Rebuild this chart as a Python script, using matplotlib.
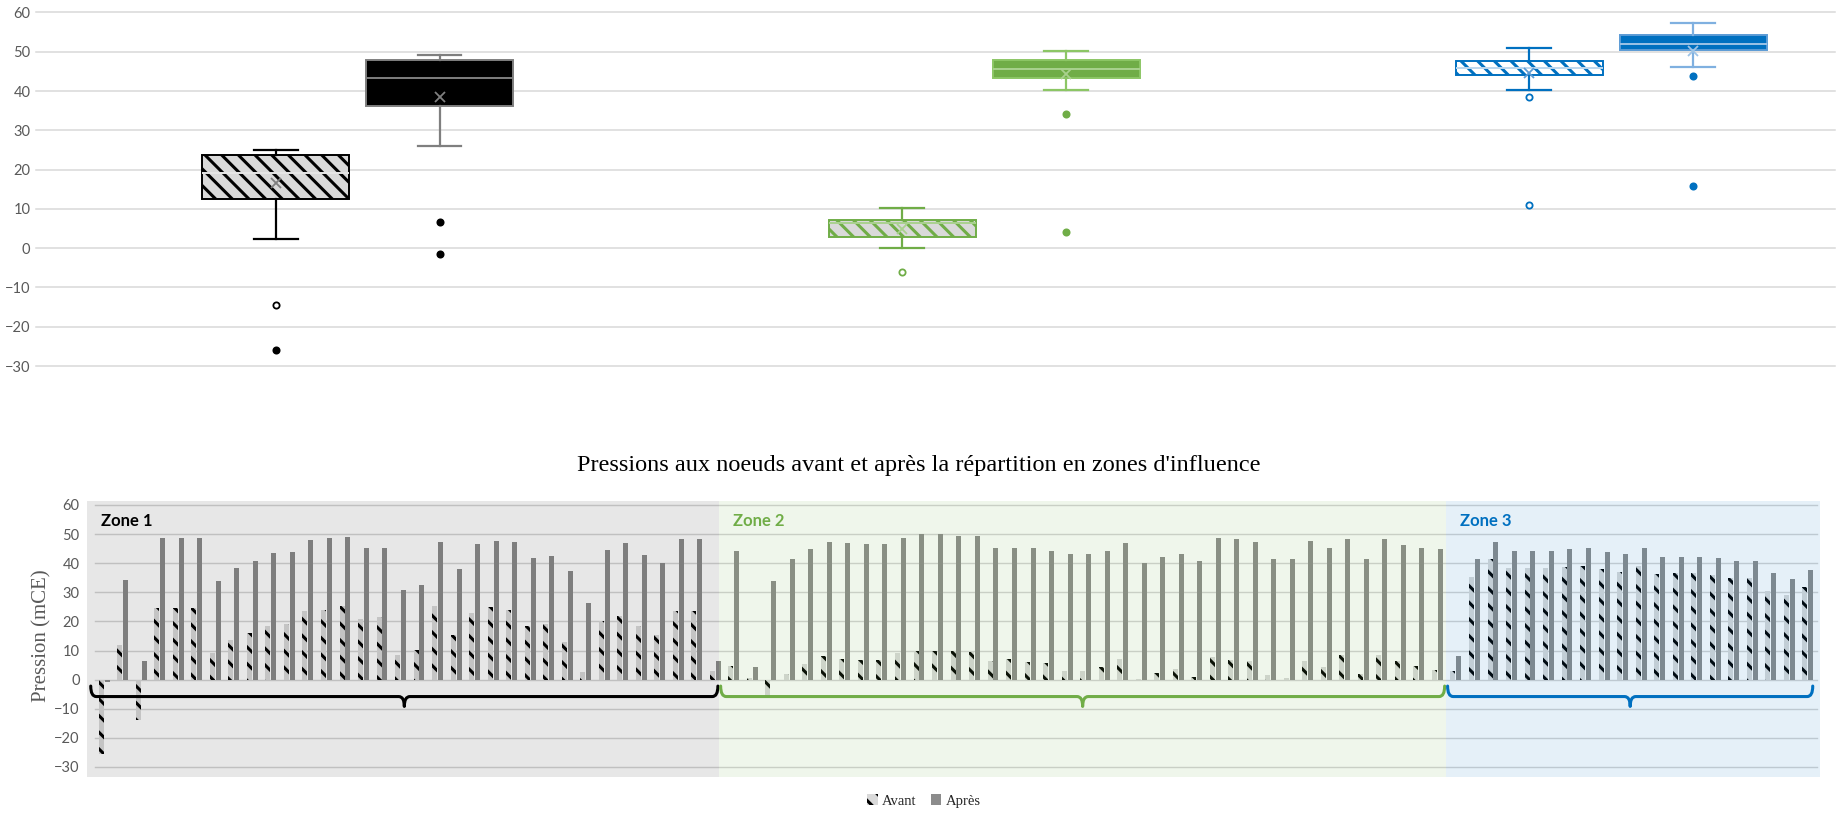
import numpy as np
import matplotlib
matplotlib.use("Agg")
import matplotlib.pyplot as plt
from matplotlib.patches import Rectangle, Patch, PathPatch
from matplotlib.path import Path

# ------------------------------------------------------------------ data
# Bottom chart: pressure (mCE) at each node, before / after zoning
zone_names = ["Zone 1", "Zone 2", "Zone 3"]
avant_z1 = [-25.7, 12.0, -14.0, 24.6, 24.6, 24.6, 9.1, 13.7, 16.0, 18.5, 19.1, 23.7,
            24.0, 25.4, 20.9, 21.6, 8.6, 10.3, 25.4, 15.4, 22.9, 25.1, 24.0, 18.3,
            19.2, 13.1, 2.6, 20.0, 21.7, 18.3, 15.4, 23.7, 23.7, 2.9]
apres_z1 = [-0.8, 34.3, 6.5, 48.6, 48.6, 48.6, 33.9, 38.3, 40.8, 43.4, 43.8, 48.0,
            48.6, 49.1, 45.1, 45.1, 30.9, 32.6, 47.4, 37.9, 46.5, 47.8, 47.4, 41.7,
            42.5, 37.4, 26.3, 44.6, 46.9, 42.9, 40.2, 48.2, 48.2, 6.5]
avant_z2 = [4.6, 0.5, -5.7, 1.9, 5.4, 8.0, 7.2, 6.9, 6.9, 9.1, 10.0, 9.7, 9.9, 9.5,
            6.5, 7.1, 6.1, 5.7, 2.9, 2.9, 4.3, 7.2, 0.3, 2.3, 3.7, 0.8, 7.7, 6.6,
            6.3, 1.7, 0.6, 6.5, 4.3, 8.6, 1.9, 8.6, 6.5, 4.6, 3.4]
apres_z2 = [44.2, 4.2, 33.9, 41.5, 44.8, 47.4, 46.9, 46.5, 46.5, 48.8, 49.9, 49.9,
            49.5, 49.5, 45.4, 45.4, 45.4, 44.3, 43.1, 43.1, 44.2, 46.9, 40.0, 42.3,
            43.1, 40.8, 48.8, 48.2, 47.4, 41.4, 41.4, 47.8, 45.1, 48.2, 41.4, 48.2,
            46.1, 45.4, 44.8]
avant_z3 = [3.1, 35.2, 41.4, 38.3, 38.3, 38.3, 38.6, 39.1, 37.9, 37.1, 39.1, 36.2,
            36.6, 36.6, 36.0, 34.9, 34.9, 30.6, 29.1, 32.0]
apres_z3 = [8.0, 41.4, 47.4, 44.3, 44.3, 44.3, 44.8, 45.4, 44.0, 43.1, 45.1, 42.1,
            42.3, 42.3, 41.9, 40.8, 40.8, 36.6, 34.5, 37.7]

# Top chart: box-and-whisker statistics (zone x avant/après)
box_labels = ["Zone 1 avant", "Zone 1 après", "Zone 2 avant", "Zone 2 après",
              "Zone 3 avant", "Zone 3 après"]
box_whislo = [2.3, 26.0, 0.0, 40.3, 40.3, 46.2]
box_q1 = [12.6, 36.2, 2.9, 43.2, 44.2, 50.5]
box_med = [19.1, 43.4, 6.4, 45.7, 45.8, 52.0]
box_q3 = [23.8, 47.9, 7.2, 48.0, 47.6, 54.2]
box_whishi = [25.0, 49.2, 10.1, 50.2, 50.9, 57.2]
box_mean = [16.6, 38.5, 5.0, 44.3, 44.6, 50.1]
box_fliers = [[-14.4, -26.0], [6.7, -1.4], [-6.0], [34.2, 4.2], [38.4, 11.0], [43.9, 15.9]]

legend_labels = ["Avant", "Après"]
title = "Pressions aux noeuds avant et après la répartition en zones d'influence"
ylabel = "Pression (mCE)"
yticks = [-30, -20, -10, 0, 10, 20, 30, 40, 50, 60]

# ------------------------------------------------------------------ style
SERIF = ["Liberation Serif", "DejaVu Serif"]
SANS = ["Lato", "DejaVu Sans"]
GREEN = "#70AD47"
BLUE = "#0070C0"
zone_colors = ["black", GREEN, BLUE]
zone_overlay = [("black", 0.095), (GREEN, 0.105), (BLUE, 0.10)]
plt.rcParams["hatch.linewidth"] = 2.2

W, H = 1837, 814
fig = plt.figure(figsize=(W / 100, H / 100), dpi=100)


def fx(px):
    return px / W


def fy(py):
    return 1 - py / H


# ================================================================= top chart
ax1 = fig.add_axes([fx(36), fy(366), fx(1835 - 36), (366 - 12.5) / H])

offs = 0.1308
positions = []
for z in range(3):
    positions += [z - offs, z + offs]

stats = []
for i in range(6):
    stats.append(dict(label=box_labels[i], whislo=box_whislo[i], q1=box_q1[i],
                      med=box_med[i], q3=box_q3[i], whishi=box_whishi[i],
                      mean=box_mean[i], fliers=[]))

box_face = ["#D9D9D9", "black", "#D9D9D9", GREEN, "white", BLUE]
box_edge = ["black", "#7F7F7F", GREEN, "#8CC665", BLUE, "#5B9BD5"]
box_hatch = ["\\\\", None, "\\\\", None, "\\\\", None]
whisk_col = ["black", "#7F7F7F", GREEN, "#8CC665", BLUE, "#7FB0E0"]
med_col = ["#E6E6E6", "#7F7F7F", "#A9D18E", "#A9D18E", "#BDD7EE", "#9DC3E6"]
mean_col = ["#7F7F7F", "#7F7F7F", "#A9D18E", "#A9D18E", "#5B9BD5", "#9DC3E6"]
flier_hollow = [[True, False], [False, False], [True], [False, False], [True, True], [False, False]]
flier_col = ["black", "black", GREEN, GREEN, BLUE, BLUE]

bp = ax1.bxp(stats, positions=positions, widths=0.2345, patch_artist=True,
             showmeans=True, showfliers=False, capwidths=0.07)
for i in range(6):
    b = bp["boxes"][i]
    b.set_facecolor(box_face[i])
    b.set_edgecolor(box_edge[i])
    b.set_linewidth(1.4)
    if box_hatch[i]:
        b.set_hatch(box_hatch[i])
    for w in bp["whiskers"][2 * i:2 * i + 2]:
        w.set_color(whisk_col[i]); w.set_linewidth(1.6)
    for c in bp["caps"][2 * i:2 * i + 2]:
        c.set_color(whisk_col[i]); c.set_linewidth(1.6)
    m = bp["medians"][i]
    m.set_color(med_col[i]); m.set_linewidth(1.4)
    mn = bp["means"][i]
    mn.set_marker("x"); mn.set_markeredgecolor(mean_col[i])
    mn.set_markersize(7); mn.set_markeredgewidth(1.3)
    for v, hol in zip(box_fliers[i], flier_hollow[i]):
        ax1.plot([positions[i]], [v], marker="o", ms=4.5, mew=1.3,
                 mec=flier_col[i], mfc="white" if hol else flier_col[i],
                 linestyle="none", zorder=4)

ax1.set_ylim(-30, 60)
ax1.set_xlim(-0.513, 2.357)
ax1.set_yticks(yticks)
ax1.set_xticks([])
ax1.set_xticklabels([])
for s in ax1.spines.values():
    s.set_visible(False)
ax1.tick_params(axis="y", length=0, pad=4, labelsize=10.5, labelcolor="#595959")
ax1.tick_params(axis="x", length=0, labelbottom=False)
for lab in ax1.get_yticklabels():
    lab.set_family(SANS)
ax1.grid(axis="y", color="#D9D9D9", linewidth=1.1)
ax1.set_axisbelow(True)
for gl in ax1.get_ygridlines():
    gl.set_clip_on(False)

# ================================================================= bottom chart
ax2 = fig.add_axes([fx(95), fy(767), fx(1817 - 95), (767 - 505) / H])
avant = avant_z1 + avant_z2 + avant_z3
apres = apres_z1 + apres_z2 + apres_z3
counts = [len(avant_z1), len(avant_z2), len(avant_z3)]
n = len(avant)
x = np.arange(n)
ax2.set_xlim(-0.5, n - 0.5)
ax2.set_ylim(-30, 60)
ax2.set_yticks(yticks)
ax2.set_xticks([])
for s in ax2.spines.values():
    s.set_visible(False)
ax2.tick_params(axis="y", length=0, pad=11, labelsize=10.5, labelcolor="#595959")
for lab in ax2.get_yticklabels():
    lab.set_family(SANS)
ax2.grid(axis="y", color="#D4D4D4", linewidth=1.0)
ax2.set_axisbelow(True)
for gl in ax2.get_ygridlines():
    gl.set_clip_on(False)

bw = 0.27
ax2.bar(x - 0.16, avant, width=bw, facecolor="#D9D9D9", edgecolor="black",
        linewidth=0, hatch="\\\\", zorder=2)
ax2.bar(x + 0.16, apres, width=bw, color="#8C8C8C", linewidth=0, zorder=2)

# zone overlays (slightly larger than plot area, like the drawn shapes)
bounds = np.concatenate([[0], np.cumsum(counts)]) - 0.5
edges = [bounds[0] - 0.43, bounds[1] - 0.3, bounds[2] - 0.05, bounds[3] + 0.14]
for z in range(3):
    col, a = zone_overlay[z]
    ax2.add_patch(Rectangle((edges[z], -33.4), edges[z + 1] - edges[z], 94.8,
                            facecolor=col, alpha=a, linewidth=0, zorder=3,
                            clip_on=False))
    ax2.text(edges[z] + 0.75, 54.4, zone_names[z], color=zone_colors[z],
             fontsize=12, fontweight="bold", family=SANS, va="center", ha="left",
             zorder=6)


def brace(x0, x1, y, yend, ytip, r, color):
    xm = (x0 + x1) / 2
    verts = [(x0, yend), (x0, y), (x0 + r, y), (xm - r, y), (xm, y), (xm, ytip),
             (xm, y), (xm + r, y), (x1 - r, y), (x1, y), (x1, yend)]
    codes = [Path.MOVETO, Path.CURVE3, Path.CURVE3, Path.LINETO, Path.CURVE3,
             Path.CURVE3, Path.CURVE3, Path.CURVE3, Path.LINETO, Path.CURVE3,
             Path.CURVE3]
    ax2.add_patch(PathPatch(Path(verts, codes), facecolor="none", edgecolor=color,
                            linewidth=2.2, capstyle="round", joinstyle="round",
                            zorder=5, clip_on=False))


brace_x = [(edges[0] + 0.2, edges[1] - 0.06), (edges[1] + 0.09, edges[2] - 0.06),
           (edges[2] + 0.1, edges[3] - 0.37)]
for z in range(3):
    brace(brace_x[z][0], brace_x[z][1], -5.8, -2.2, -9.2, 0.3, zone_colors[z])

fig.text(fx(42), fy(636), ylabel, rotation=90, ha="center", va="center",
         family=SERIF, fontsize=15, color="#595959")
fig.text(0.5, fy(466), title, ha="center", va="center", family=SERIF,
         fontsize=17.5, color="black")

handles = [Patch(facecolor="#D9D9D9", edgecolor="black", hatch="\\\\", linewidth=0),
           Patch(facecolor="#8C8C8C", linewidth=0)]
fig.legend(handles, legend_labels, loc="center", bbox_to_anchor=(fx(924), fy(801)),
           ncol=2, frameon=False, prop={"family": SERIF, "size": 10.5},
           handlelength=0.7, handleheight=0.7, handletextpad=0.3,
           columnspacing=1.0, labelcolor="#262626")

fig.savefig("out.png", dpi=100)
